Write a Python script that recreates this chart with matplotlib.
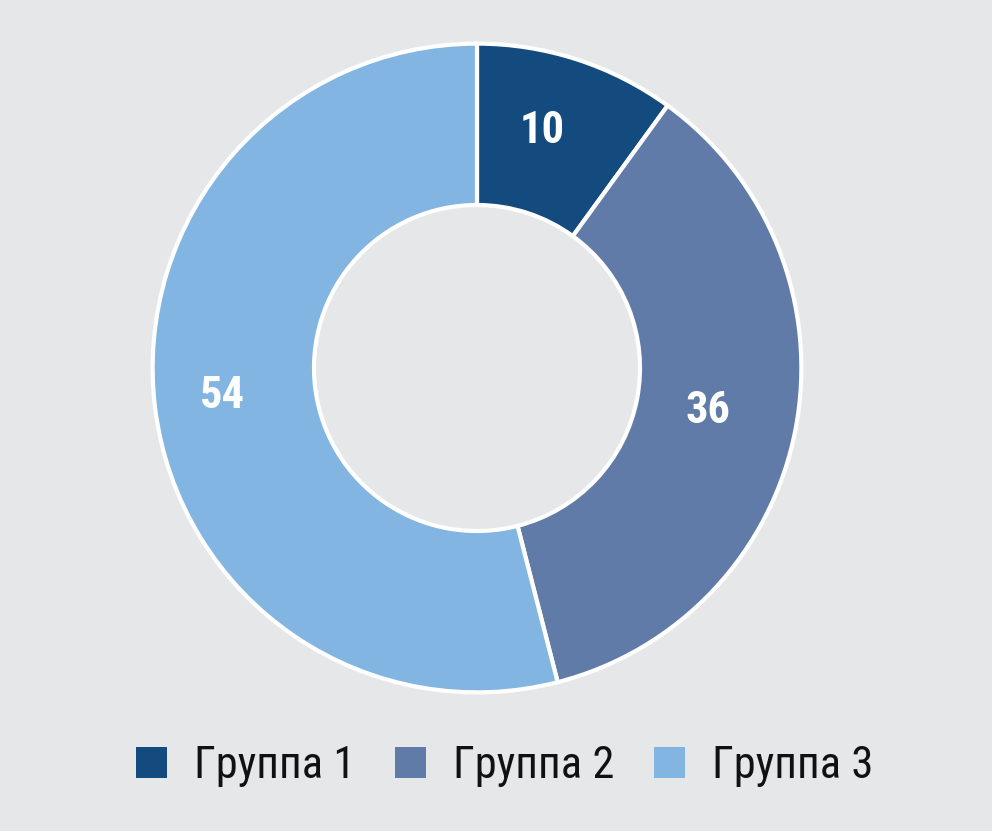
import matplotlib
matplotlib.use("Agg")
import matplotlib.pyplot as plt
import numpy as np
from matplotlib.patches import Patch

categories = ["Группа 1", "Группа 2", "Группа 3"]
values = [10, 36, 54]
colors = ["#134b7e", "#617ba9", "#82b5e2"]

plt.rcParams['font.family'] = ["Roboto Condensed", "DejaVu Sans"]

fig = plt.figure(figsize=(9.92, 8.31), dpi=100)
bg = "#e6e7e9"
fig.patch.set_facecolor(bg)

cx, cy, r = 477/992, 1-368/831, 326
ax = fig.add_axes([cx - r/992, cy - r/831, 2*r/992, 2*r/831])
ax.set_facecolor(bg)
wedges, _ = ax.pie(values, colors=colors, startangle=90, counterclock=False,
                   radius=0.995, wedgeprops=dict(width=0.495, edgecolor="white", linewidth=3))
total = sum(values)
start = 90
label_r, off_x, off_y = 0.755, -0.032, 0.01
for v in values:
    mid = np.deg2rad(start - v/total*360/2)
    start -= v/total*360
    ax.text(label_r*np.cos(mid) + off_x, label_r*np.sin(mid) + off_y, str(v),
            ha="center", va="center", color="white", fontsize=32, fontweight="bold")
ax.set_xlim(-1, 1)
ax.set_ylim(-1, 1)
ax.axis("off")

handles = [Patch(facecolor=c, edgecolor="none") for c in colors]
fig.legend(handles, categories, loc="center", bbox_to_anchor=(504.5/992, 1-766/831),
           ncol=3, frameon=False, fontsize=32, handlelength=0.7, handleheight=0.68,
           columnspacing=0.9, handletextpad=0.6, borderpad=0, labelcolor="#111111")

fig.savefig("out.png", dpi=100, facecolor=bg)
